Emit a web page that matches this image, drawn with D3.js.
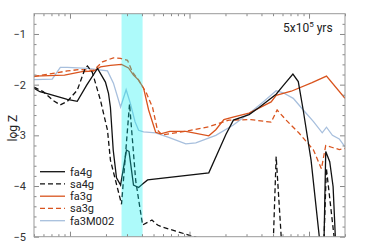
<!DOCTYPE html>
<html>
<head>
<meta charset="utf-8">
<script src="https://cdn.jsdelivr.net/npm/d3@7"></script>
<style>
  body { margin: 0; background: #fff; }
  text { font-family: Roboto, "Liberation Sans", sans-serif; }
</style>
</head>
<body>
<div id="chart"></div>
<script>
// data: [x, log Z]
const fa4g = [[0.5,-2.07],[0.56,-2.14],[0.68,-2.19],[0.95,-2.29],[1.15,-2.33],[1.38,-2.01],[1.70,-1.68],[1.98,-1.95],[2.10,-2.17],[2.18,-2.45],[2.30,-3.29],[2.45,-3.84],[2.65,-3.98],[2.97,-3.29],[3.12,-3.32],[3.40,-3.98],[3.75,-4.03],[4.05,-3.96],[4.46,-3.88],[14.5,-3.74],[20.2,-2.98],[23.3,-2.70],[31.5,-2.59],[38.2,-2.45],[53.1,-2.19],[60.8,-2.02],[73.3,-1.79],[81.3,-1.94],[89.5,-2.51],[104,-3.49],[122,-5.01],[127,-5.6],[133.7,-5.0],[138,-3.32],[149,-3.52],[159,-4.01],[166,-5.0],[180,-5.6],[200,-5.8]];
const sa4g = [[0.5,-2.05],[0.60,-2.14],[0.72,-2.31],[0.83,-2.40],[0.95,-2.33],[1.15,-2.11],[1.34,-1.68],[1.40,-1.63],[1.54,-1.76],[1.80,-2.31],[2.06,-2.90],[2.18,-3.49],[2.70,-4.36],[3.15,-2.38],[3.55,-3.90],[4.05,-4.77],[4.85,-4.67],[5.41,-4.77],[5.96,-4.81],[7.67,-4.89],[11.3,-5.01],[20,-5.5],[45,-5.5],[50.4,-5.0],[53.1,-3.42],[58.5,-5.0],[65,-5.5],[125,-5.5],[133.7,-5.0],[139.7,-3.65],[162,-5.0],[170,-5.5],[200,-5.5]];
const fa3g = [[0.5,-1.83],[0.90,-1.81],[1.29,-1.74],[1.57,-1.735],[1.80,-1.65],[2.18,-1.62],[2.70,-1.60],[3.09,-1.67],[3.40,-1.81],[3.75,-1.91],[4.13,-2.07],[4.55,-2.50],[5.21,-2.94],[5.73,-2.97],[6.85,-2.92],[9.31,-2.92],[14.5,-3.01],[16.6,-2.89],[19.4,-2.69],[23.1,-2.64],[31.5,-2.56],[48.2,-2.34],[53.1,-2.21],[71.0,-2.13],[106,-1.96],[140,-1.83],[200,-2.27]];
const sa3g = [[0.5,-1.84],[0.95,-1.73],[1.22,-1.70],[1.57,-1.72],[1.87,-1.55],[2.31,-1.47],[2.65,-1.48],[3.03,-1.52],[3.33,-1.75],[3.75,-1.91],[4.37,-2.17],[4.91,-2.45],[5.40,-2.90],[5.90,-2.99],[9.31,-2.92],[14.5,-2.83],[21.4,-2.70],[32.7,-2.69],[48.2,-2.74],[54.1,-2.50],[64.4,-2.70],[82.8,-2.96],[109,-3.29],[127,-3.66],[138,-3.20],[157,-3.24],[179,-3.28],[200,-3.26]];
const fa3M002 = [[0.5,-1.90],[0.71,-1.89],[0.83,-1.66],[0.95,-1.66],[1.40,-1.68],[2.06,-1.73],[2.31,-1.97],[2.65,-2.44],[2.95,-2.10],[3.2,-2.37],[3.5,-2.73],[3.75,-2.90],[4.13,-2.93],[5.21,-2.95],[6.7,-3.04],[9.31,-3.17],[11.3,-3.15],[16.6,-3.00],[23.1,-2.80],[32.7,-2.54],[41.3,-2.34],[53.1,-2.12],[60.8,-2.16],[73.8,-2.27],[89.5,-2.50],[109,-2.73],[129,-2.95],[140,-2.84],[157,-3.00],[179,-3.07],[200,-3.23]];

const seriesNames = ["fa4g", "sa4g", "fa3g", "sa3g", "fa3M002"];
const yTicks = [-1, -2, -3, -4, -5];
const bandRange = [2.7, 4.05];

const width = 374, height = 251;
const plotLeft = 34, plotRight = 345, plotTop = 13.7, plotBottom = 236.7;

const svg = d3.select('#chart').append('svg')
    .attr('width', width)
    .attr('height', height);

const x = d3.scaleLog().domain([0.5, 200]).range([plotLeft, plotRight]);
const y = d3.scaleLinear().domain([-5, -0.6]).range([plotBottom, plotTop]);

svg.append('clipPath').attr('id', 'plot')
  .append('rect')
    .attr('x', plotLeft).attr('y', plotTop)
    .attr('width', plotRight - plotLeft).attr('height', plotBottom - plotTop);

const styles = {
    fa4g:    { color: '#111', dash: null },
    sa4g:    { color: '#111', dash: '5,3' },
    fa3g:    { color: '#d9541e', dash: null },
    sa3g:    { color: '#d9541e', dash: '5,3' },
    fa3M002: { color: '#a7bfdd', dash: null }
};
const dataByName = { fa4g, sa4g, fa3g, sa3g, fa3M002 };

const line = d3.line().x(d => x(d[0])).y(d => y(d[1]));

const lines = svg.append('g').attr('clip-path', 'url(#plot)');
// draw order: blue underneath, black on top
["fa3M002", "fa3g", "sa3g", "fa4g", "sa4g"].forEach(name => {
    lines.append('path')
        .datum(dataByName[name])
        .attr('d', line)
        .attr('fill', 'none')
        .attr('stroke', styles[name].color)
        .attr('stroke-width', 1.3)
        .attr('stroke-dasharray', styles[name].dash);
});

// cyan band, drawn over the lines
svg.append('rect')
    .attr('x', x(bandRange[0]))
    .attr('y', plotTop)
    .attr('width', x(bandRange[1]) - x(bandRange[0]))
    .attr('height', plotBottom - plotTop)
    .attr('fill', '#00f0f0')
    .attr('opacity', 0.32);

// axes: ticks pointing inward on all four sides
const xAll = x.ticks();
const isMajor = v => Math.abs(Math.log10(v) - Math.round(Math.log10(v))) < 1e-9;
const xMinor = xAll.filter(v => !isMajor(v));
const xMajor = xAll.filter(isMajor);
const yMinor = d3.range(-4.8, -0.6, 0.2).filter(v => Math.abs(v - Math.round(v)) > 1e-6);

function addAxis(axis, tx, ty) {
    const g = svg.append('g').attr('transform', `translate(${tx},${ty})`).call(axis);
    g.select('.domain').remove();
    g.selectAll('line').attr('stroke', '#888');
    return g;
}
addAxis(d3.axisBottom(x).tickValues(xMinor).tickSize(-2.5).tickFormat(''), 0, plotBottom);
addAxis(d3.axisBottom(x).tickValues(xMajor).tickSize(-5).tickFormat(''), 0, plotBottom);
addAxis(d3.axisTop(x).tickValues(xMinor).tickSize(-2.5).tickFormat(''), 0, plotTop);
addAxis(d3.axisTop(x).tickValues(xMajor).tickSize(-5).tickFormat(''), 0, plotTop);
addAxis(d3.axisLeft(y).tickValues(yMinor).tickSize(-2.5).tickFormat(''), plotLeft, 0);
addAxis(d3.axisRight(y).tickValues(yMinor).tickSize(-2.5).tickFormat(''), plotRight, 0);
addAxis(d3.axisRight(y).tickValues(yTicks).tickSize(-5).tickFormat(''), plotRight, 0);
const yAx = addAxis(d3.axisLeft(y).tickValues(yTicks).tickSize(-5).tickPadding(8).tickFormat(d3.format('d')), plotLeft, 0);
yAx.selectAll('text').attr('fill', '#333').style('font-size', '11px');

svg.append('rect')
    .attr('x', plotLeft).attr('y', plotTop)
    .attr('width', plotRight - plotLeft).attr('height', plotBottom - plotTop)
    .attr('fill', 'none')
    .attr('stroke', '#999')
    .attr('stroke-width', 1);

svg.append('text')
    .attr('transform', `translate(17,${(plotTop + plotBottom) / 2 + 3}) rotate(-90)`)
    .attr('text-anchor', 'middle')
    .attr('fill', '#222')
    .style('font-size', '12px')
    .text('log Z');

const lbl = svg.append('text')
    .attr('x', 283).attr('y', 32)
    .attr('fill', '#222')
    .style('font-size', '12px');
lbl.append('tspan').text('5x10');
lbl.append('tspan').attr('dy', -5).style('font-size', '8px').text('5');
lbl.append('tspan').attr('dy', 5).text(' yrs');

// legend
const legend = svg.append('g');
seriesNames.forEach((name, i) => {
    const ly = 171.7 + i * 12.25;
    legend.append('line')
        .attr('x1', 40).attr('x2', 65)
        .attr('y1', ly).attr('y2', ly)
        .attr('stroke', styles[name].color)
        .attr('stroke-width', 1.3)
        .attr('stroke-dasharray', styles[name].dash);
    legend.append('text')
        .attr('x', 70).attr('y', ly + 4)
        .attr('fill', '#222')
        .style('font-size', '11px')
        .text(name);
});
</script>
</body>
</html>
